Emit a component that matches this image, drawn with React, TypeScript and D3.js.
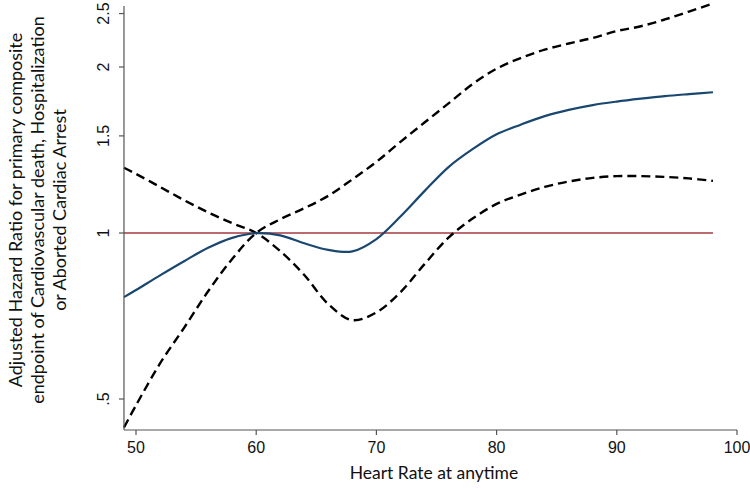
import React from "react";
import * as d3 from "d3";

const heartRate = [49, 50, 52, 54, 56, 58, 60, 62, 64, 66, 68, 70, 72, 74, 76, 78, 80, 82, 84, 86, 88, 90, 92, 94, 96, 98];
const hazardRatio = [0.765, 0.788, 0.838, 0.889, 0.94, 0.98, 0.999, 0.99, 0.958, 0.932, 0.926, 0.975, 1.071, 1.191, 1.317, 1.419, 1.51, 1.572, 1.629, 1.672, 1.706, 1.731, 1.752, 1.771, 1.786, 1.8];
const ciA = [1.313, 1.28, 1.212, 1.147, 1.09, 1.042, 1.0, 0.927, 0.839, 0.743, 0.695, 0.718, 0.781, 0.878, 0.981, 1.062, 1.129, 1.174, 1.212, 1.24, 1.259, 1.268, 1.268, 1.264, 1.256, 1.243];
const ciB = [0.444, 0.487, 0.58, 0.673, 0.784, 0.897, 1.0, 1.059, 1.109, 1.168, 1.251, 1.346, 1.463, 1.586, 1.718, 1.862, 1.986, 2.076, 2.15, 2.206, 2.258, 2.324, 2.371, 2.439, 2.521, 2.607];
const xTicks = [50, 60, 70, 80, 90, 100];
const yTicks = [0.5, 1, 1.5, 2, 2.5];
const yTickLabels = [".5", "1", "1.5", "2", "2.5"];
const referenceValue = 1;
const xTitle = "Heart Rate at anytime";
const yTitleLines = [
  "Adjusted Hazard Ratio for primary composite",
  "endpoint of Cardiovascular death, Hospitalization",
  "or Aborted Cardiac Arrest",
];

export default function App() {
  const W = 750, H = 488;
  const x = d3.scaleLinear().domain([50, 100]).range([136, 737]);
  const y = d3.scaleLog().domain([0.5, 2]).range([399, 67]);
  const axisLeft = x(49);
  const axisBottom = 430;
  const axisTop = 6;

  const mk = (vals: number[]) =>
    d3
      .line<number>()
      .x((_, i) => x(heartRate[i]))
      .y((d) => y(d))
      .curve(d3.curveCatmullRom.alpha(0.5))(vals) || "";

  const axisColor = "#555";
  const tickFont = "'Liberation Sans', Arial, sans-serif";
  const titleFont = "Lato, 'Open Sans', sans-serif";

  return (
    <svg
      width={W}
      height={H}
      style={{ position: "absolute", left: 0, top: 0, background: "#fff" }}
    >
      <rect x={0} y={0} width={W} height={H} fill="#fff" />
      <line
        x1={x(heartRate[0])}
        x2={x(heartRate[heartRate.length - 1])}
        y1={y(referenceValue)}
        y2={y(referenceValue)}
        stroke="#a33a40"
        strokeWidth={1.6}
      />
      <path d={mk(ciA)} fill="none" stroke="#000" strokeWidth={2.4} strokeDasharray="9,5" />
      <path d={mk(ciB)} fill="none" stroke="#000" strokeWidth={2.4} strokeDasharray="9,5" />
      <path d={mk(hazardRatio)} fill="none" stroke="#1a476f" strokeWidth={2.2} />

      <line x1={axisLeft} x2={axisLeft} y1={axisTop} y2={axisBottom} stroke={axisColor} strokeWidth={1.2} />
      <line x1={axisLeft} x2={x(100)} y1={axisBottom} y2={axisBottom} stroke={axisColor} strokeWidth={1.2} />
      {xTicks.map((t) => (
        <g key={"x" + t}>
          <line x1={x(t)} x2={x(t)} y1={axisBottom} y2={axisBottom + 5} stroke={axisColor} strokeWidth={1.2} />
          <text x={x(t)} y={453} textAnchor="middle" fontFamily={tickFont} fontSize={16} fill="#111">
            {t}
          </text>
        </g>
      ))}
      {yTicks.map((t, i) => (
        <g key={"y" + t}>
          <line x1={axisLeft - 5} x2={axisLeft} y1={y(t)} y2={y(t)} stroke={axisColor} strokeWidth={1.2} />
          <text
            transform={`translate(${109},${y(t)}) rotate(-90)`}
            textAnchor="middle"
            fontFamily={tickFont}
            fontSize={16}
            fill="#111"
          >
            {yTickLabels[i]}
          </text>
        </g>
      ))}
      <text x={434} y={479} textAnchor="middle" fontFamily={titleFont} fontSize={17.5} fill="#111">
        {xTitle}
      </text>
      {yTitleLines.map((s, i) => (
        <text
          key={s}
          transform={`translate(${22 + i * 22},${210}) rotate(-90)`}
          textAnchor="middle"
          fontFamily={titleFont}
          fontSize={18}
          fill="#111"
        >
          {s}
        </text>
      ))}
    </svg>
  );
}
